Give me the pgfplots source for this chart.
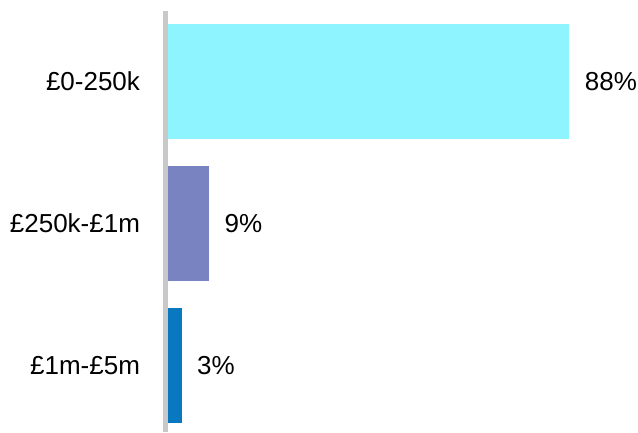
\documentclass[border=0pt]{standalone}
\usepackage{pgfplots}
\pgfplotsset{compat=1.18}
\usepackage{fontspec}
\setmainfont{Liberation Sans}
\definecolor{barA}{HTML}{8EF4FF}
\definecolor{barB}{HTML}{7A83C1}
\definecolor{barC}{HTML}{0A77C1}
\definecolor{axisgray}{HTML}{C8C8C8}
\newcommand{\lblfont}{\fontsize{26}{31}\selectfont}
\begin{document}
\begin{tikzpicture}[x=1pt,y=1pt]
    \begin{axis}[
        at={(165.5pt,0pt)}, anchor=south west,
        scale only axis,
        width=459.5pt, height=421pt,
        xbar, bar width=115pt, bar shift=0pt,
        xmin=-0.55, xmax=100.2,
        ymin=-0.468, ymax=2.496,
        axis x line=none,
        axis y line*=left,
        y axis line style={line width=5pt, draw=axisgray, -},
        ytick={0,1,2},
        yticklabels={£1m-£5m, £250k-£1m, £0-250k},
        major tick length=0pt,
        yticklabel style={font=\lblfont, xshift=-22pt},
        /pgf/number format/assume math mode=true,
        nodes near coords={\pgfmathprintnumber{\pgfplotspointmeta}\%},
        nodes near coords style={font=\lblfont, anchor=west, xshift=12pt, black},
        ]
        \addplot[fill=barC, draw=none] coordinates {(3,0)};
        \addplot[fill=barB, draw=none] coordinates {(9,1)};
        \addplot[fill=barA, draw=none] coordinates {(88,2)};
    \end{axis}
    \pgfresetboundingbox
    \useasboundingbox (0,0) rectangle (638,432);
\end{tikzpicture}
\end{document}
